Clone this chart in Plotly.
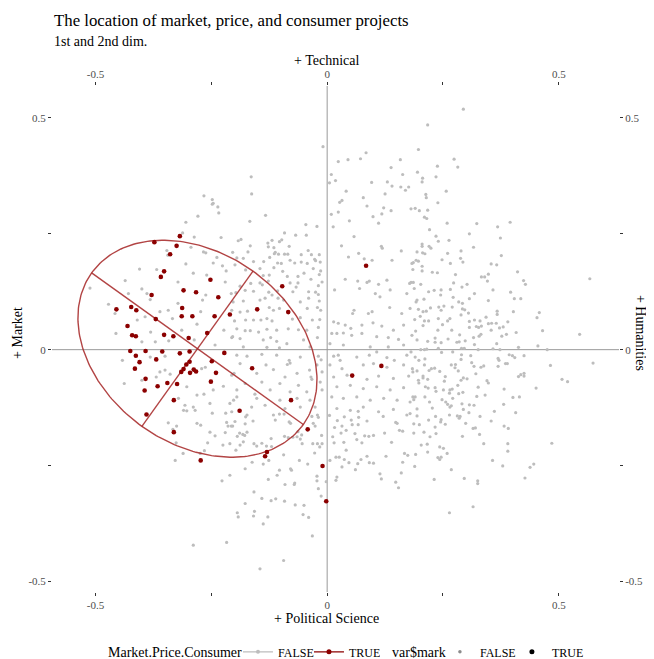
import numpy as np
import plotly.graph_objects as go

TITLE = "The location of market, price, and consumer projects"
SUBTITLE = "1st and 2nd dim."
X_TOP_TITLE = "+ Technical"
X_BOTTOM_TITLE = "+ Political Science"
Y_LEFT_TITLE = "+ Market"
Y_RIGHT_TITLE = "+ Humanities"
LEGEND1_TITLE = "Market.Price.Consumer"
LEGEND2_TITLE = "var$mark"
TICK_VALUES = [-0.5, -0.25, 0, 0.25, 0.5]
TICK_LABELS = ["-0.5", "", "0", "", "0.5"]
X_RANGE = [-0.594, 0.630]
Y_RANGE = [-0.523, 0.569]

# Market.Price.Consumer == TRUE projects
RED_POINTS = [
    (-0.339, 0.206), (-0.352, 0.169), (-0.359, 0.157), (-0.252, 0.151), (-0.379, 0.118),
    (-0.310, 0.128), (-0.283, 0.124), (-0.235, 0.113), (-0.455, 0.087), (-0.423, 0.092),
    (-0.412, 0.085), (-0.313, 0.090), (-0.314, 0.072), (-0.291, 0.072), (-0.243, 0.072),
    (-0.210, 0.076), (-0.370, 0.066), (-0.431, 0.051), (-0.421, 0.031), (-0.413, 0.029),
    (-0.352, 0.032), (-0.332, 0.029), (-0.299, 0.025), (-0.259, 0.036), (-0.425, -0.003),
    (-0.392, -0.003), (-0.356, -0.004), (-0.318, -0.008), (-0.297, -0.004), (-0.222, -0.007),
    (-0.413, -0.013), (-0.369, -0.021), (-0.405, -0.027), (-0.297, -0.026), (-0.304, -0.032),
    (-0.249, -0.025), (-0.415, -0.041), (-0.310, -0.042), (-0.315, -0.048), (-0.288, -0.043),
    (-0.283, -0.047), (-0.296, -0.050), (-0.240, -0.050), (-0.392, -0.063), (-0.345, -0.072),
    (-0.324, -0.074), (-0.251, -0.069), (-0.366, -0.079), (-0.394, -0.088), (-0.331, -0.109),
    (-0.390, -0.140), (-0.189, -0.132), (-0.373, 0.232), (-0.318, 0.245), (-0.325, 0.224),
    (0.084, 0.181), (-0.097, 0.137), (-0.151, 0.087), (-0.084, 0.081), (-0.162, -0.040),
    (0.117, -0.035), (0.054, -0.056), (-0.078, -0.109), (-0.331, -0.178), (-0.273, -0.239),
    (-0.042, -0.172), (-0.130, -0.221), (-0.134, -0.230), (-0.010, -0.251), (-0.002, -0.327),
]

# Market.Price.Consumer == FALSE projects (upper region)
GRAY_TOP = [
    (-0.266, 0.332), (-0.248, 0.324), (-0.246, 0.316), (-0.248, 0.314), (-0.236, 0.308),
    (-0.234, 0.295), (-0.279, 0.288), (-0.305, 0.275), (-0.312, 0.252), (-0.287, 0.243),
    (-0.229, 0.242), (-0.192, 0.235), (-0.294, 0.221), (-0.346, 0.214), (-0.267, 0.211),
    (-0.262, 0.209), (-0.204, 0.210), (-0.238, 0.199), (-0.344, 0.204),
    (-0.009, 0.438), (-0.164, 0.373), (-0.163, 0.336), (-0.133, 0.290), (-0.167, 0.277),
    (0.084, 0.425), (0.024, 0.406), (0.045, 0.410), (0.072, 0.412), (0.158, 0.410),
    (0.197, 0.432), (0.009, 0.378), (0.005, 0.360), (0.018, 0.365), (0.138, 0.393),
    (0.163, 0.378), (0.195, 0.383), (0.096, 0.361), (0.130, 0.362), (0.140, 0.353),
    (0.159, 0.351), (0.176, 0.351), (0.169, 0.344), (0.041, 0.342), (0.125, 0.336),
    (0.078, 0.328), (0.032, 0.322), (0.027, 0.318), (0.086, 0.310), (0.122, 0.306),
    (0.138, 0.300), (0.181, 0.304), (0.190, 0.305), (0.199, 0.300), (0.024, 0.297),
    (0.009, 0.292), (0.099, 0.287), (0.118, 0.293), (0.048, 0.278), (0.111, 0.273),
    (0.013, 0.265), (0.058, 0.244), (0.117, 0.223), (0.119, 0.219), (0.031, 0.224),
    (0.160, 0.213), (0.194, 0.211), (0.046, 0.200), (0.080, 0.196), (-0.046, 0.270),
    (-0.022, 0.266), (-0.045, 0.247), (-0.068, 0.247), (-0.092, 0.252), (-0.098, 0.237),
    (-0.103, 0.233), (-0.119, 0.236), (-0.128, 0.230), (-0.082, 0.223), (-0.127, 0.222),
    (-0.115, 0.220), (-0.166, 0.224), (-0.186, 0.238), (-0.171, 0.211), (-0.112, 0.210),
    (-0.105, 0.206), (-0.092, 0.206), (-0.041, 0.214), (-0.056, 0.205), (-0.124, 0.199),
    (-0.027, 0.195),
    (0.294, 0.519), (0.217, 0.485), (0.274, 0.411), (0.238, 0.396), (0.282, 0.394),
    (0.206, 0.370), (0.205, 0.362), (0.235, 0.373), (0.257, 0.342), (0.213, 0.335),
    (0.214, 0.328), (0.239, 0.317), (0.217, 0.301), (0.210, 0.286), (0.215, 0.283),
    (0.259, 0.273), (0.323, 0.272), (0.368, 0.265), (0.395, 0.275), (0.221, 0.259),
    (0.307, 0.250), (0.235, 0.245), (0.374, 0.241), (0.240, 0.234), (0.263, 0.236),
    (0.205, 0.228), (0.205, 0.223), (0.220, 0.223), (0.224, 0.219), (0.316, 0.221),
    (0.206, 0.209), (0.211, 0.207), (0.260, 0.208), (0.289, 0.213), (0.376, 0.203),
    (0.248, 0.194), (0.288, 0.197),
]

# right-hand region
GRAY_RIGHT = [
    (0.186, 0.188), (0.197, 0.191), (0.205, 0.180), (0.185, 0.173), (0.266, 0.186),
    (0.293, 0.189), (0.354, 0.185), (0.366, 0.183), (0.411, 0.168), (0.205, 0.170),
    (0.227, 0.167), (0.238, 0.166), (0.277, 0.162), (0.333, 0.157), (0.340, 0.157),
    (0.348, 0.163), (0.346, 0.148), (0.424, 0.149), (0.428, 0.141), (0.567, 0.153),
    (0.181, 0.145), (0.202, 0.141), (0.273, 0.144), (0.302, 0.141), (0.188, 0.132),
    (0.219, 0.125), (0.231, 0.128), (0.246, 0.129), (0.266, 0.130), (0.291, 0.135),
    (0.318, 0.121), (0.358, 0.129), (0.396, 0.124), (0.209, 0.109), (0.245, 0.118),
    (0.272, 0.113), (0.284, 0.103), (0.292, 0.100), (0.307, 0.110), (0.348, 0.106),
    (0.404, 0.110), (0.418, 0.110), (0.192, 0.103), (0.197, 0.087), (0.207, 0.082),
    (0.214, 0.083), (0.223, 0.090), (0.241, 0.092), (0.252, 0.094), (0.270, 0.092),
    (0.246, 0.085), (0.292, 0.088), (0.297, 0.086), (0.305, 0.079), (0.289, 0.075),
    (0.189, 0.065), (0.201, 0.072), (0.210, 0.062), (0.219, 0.062), (0.240, 0.067),
    (0.265, 0.067), (0.260, 0.062), (0.307, 0.061), (0.318, 0.064), (0.330, 0.062),
    (0.343, 0.070), (0.355, 0.057), (0.365, 0.057), (0.367, 0.083), (0.367, 0.076),
    (0.390, 0.060), (0.402, 0.082), (0.453, 0.069), (0.458, 0.080), (0.191, 0.040),
    (0.207, 0.052), (0.249, 0.054), (0.239, 0.042), (0.269, 0.042), (0.286, 0.032),
    (0.307, 0.048), (0.322, 0.050), (0.327, 0.048), (0.333, 0.051), (0.348, 0.056),
    (0.354, 0.042), (0.372, 0.047), (0.380, 0.049), (0.387, 0.033), (0.408, 0.037),
    (0.465, 0.041), (0.545, 0.033), (0.217, 0.018), (0.233, 0.025), (0.233, 0.016),
    (0.246, 0.015), (0.261, 0.023), (0.280, 0.016), (0.285, 0.017), (0.298, 0.019),
    (0.318, 0.011), (0.316, 0.026), (0.328, 0.029), (0.332, 0.033), (0.366, 0.013),
    (0.377, 0.029), (0.455, 0.008), (0.413, 0.005), (0.240, 0.003), (0.290, 0.003),
    (0.296, 0.003), (0.326, 0.000), (0.358, 0.002), (0.373, 0.000), (0.475, 0.000),
    (0.181, -0.005), (0.202, 0.000), (0.210, 0.000), (0.215, 0.001), (0.198, -0.023),
    (0.211, -0.020), (0.247, -0.006), (0.271, -0.005), (0.290, -0.011), (0.289, -0.021),
    (0.312, -0.028), (0.310, -0.013), (0.369, -0.019), (0.371, -0.023), (0.393, -0.011),
    (0.400, -0.013), (0.405, -0.017), (0.425, -0.013), (0.385, -0.030), (0.389, -0.030),
    (0.369, -0.036), (0.482, -0.034), (0.574, -0.029), (0.210, -0.033), (0.220, -0.045),
    (0.225, -0.041), (0.232, -0.040), (0.243, -0.047), (0.268, -0.033), (0.277, -0.032),
    (0.276, -0.039), (0.283, -0.046), (0.317, -0.036), (0.332, -0.038), (0.338, -0.035),
    (0.185, -0.048), (0.194, -0.046), (0.207, -0.057), (0.207, -0.061), (0.217, -0.064),
    (0.198, -0.072), (0.255, -0.058), (0.253, -0.068), (0.289, -0.066), (0.294, -0.061),
    (0.302, -0.063), (0.321, -0.052), (0.345, -0.067), (0.348, -0.072), (0.413, -0.058),
    (0.418, -0.054), (0.425, -0.051), (0.425, -0.057), (0.507, -0.064), (0.519, -0.069),
    (0.451, -0.083), (0.212, -0.080), (0.218, -0.083), (0.233, -0.082), (0.235, -0.090),
    (0.251, -0.087), (0.265, -0.087), (0.270, -0.085), (0.282, -0.077), (0.264, -0.094),
    (0.284, -0.095), (0.293, -0.092), (0.326, -0.081), (0.341, -0.098), (0.382, -0.085),
    (0.401, -0.103), (0.415, -0.102), (0.185, -0.102), (0.187, -0.108), (0.211, -0.102),
    (0.248, -0.108), (0.256, -0.113), (0.271, -0.105), (0.323, -0.101), (0.194, -0.128),
    (0.221, -0.113), (0.227, -0.126), (0.260, -0.118), (0.265, -0.124), (0.268, -0.121),
    (0.291, -0.117), (0.294, -0.129), (0.307, -0.119), (0.317, -0.120), (0.361, -0.133),
    (0.381, -0.118), (0.179, -0.138), (0.194, -0.143), (0.234, -0.144), (0.264, -0.141),
    (0.287, -0.144), (0.306, -0.136), (0.330, -0.144), (0.407, -0.136),
    (0.281, -0.143), (0.285, -0.148), (0.219, -0.152), (0.246, -0.151), (0.245, -0.156),
    (0.255, -0.161), (0.187, -0.160), (0.199, -0.162), (0.299, -0.159), (0.354, -0.154),
    (0.233, -0.167), (0.315, -0.170), (0.320, -0.169), (0.382, -0.165), (0.391, -0.170),
    (0.187, -0.180), (0.209, -0.178), (0.235, -0.181), (0.222, -0.188), (0.292, -0.187),
    (0.329, -0.183), (0.203, -0.206), (0.216, -0.204), (0.243, -0.210), (0.251, -0.213),
    (0.338, -0.203), (0.390, -0.203), (0.485, -0.202), (0.191, -0.226), (0.217, -0.221),
    (0.239, -0.233), (0.243, -0.237), (0.246, -0.232), (0.259, -0.224), (0.390, -0.219),
    (0.357, -0.239), (0.189, -0.252), (0.268, -0.259), (0.379, -0.251), (0.438, -0.254),
    (0.446, -0.247), (0.231, -0.280), (0.296, -0.278), (0.325, -0.283), (0.325, -0.289),
    (0.427, -0.277), (0.315, -0.339), (0.264, -0.352),
]

# lower region
GRAY_BOTTOM = [
    (-0.199, -0.155), (-0.204, -0.165), (-0.176, -0.145), (-0.160, -0.154), (-0.177, -0.160),
    (-0.173, -0.178), (-0.189, -0.180), (-0.182, -0.183), (-0.178, -0.185), (-0.194, -0.187),
    (-0.188, -0.206), (-0.181, -0.199), (-0.158, -0.203), (-0.152, -0.208), (-0.141, -0.202),
    (-0.121, -0.192), (-0.131, -0.208), (-0.120, -0.209), (-0.112, -0.152), (-0.103, -0.139),
    (-0.093, -0.139), (-0.082, -0.156), (-0.079, -0.159), (-0.092, -0.187), (-0.084, -0.190),
    (-0.074, -0.189), (-0.065, -0.188), (-0.058, -0.193), (-0.063, -0.177), (-0.055, -0.184),
    (-0.054, -0.203), (-0.033, -0.144), (-0.019, -0.146), (-0.030, -0.159), (-0.026, -0.165),
    (-0.012, -0.185), (-0.021, -0.203), (-0.011, -0.203), (-0.031, -0.203), (-0.016, -0.210),
    (-0.027, -0.223), (-0.042, -0.247), (-0.060, -0.239), (-0.094, -0.227), (-0.079, -0.257),
    (-0.077, -0.260), (-0.108, -0.271), (-0.127, -0.280), (-0.091, -0.291), (-0.070, -0.288),
    (-0.071, -0.291), (-0.022, -0.273), (-0.022, -0.283), (-0.019, -0.300), (-0.013, -0.316),
    (-0.002, -0.285), (-0.158, -0.307), (-0.177, -0.332), (-0.141, -0.321), (-0.121, -0.326),
    (-0.111, -0.322), (-0.092, -0.327), (-0.069, -0.335), (-0.050, -0.336), (-0.157, -0.349),
    (-0.159, -0.359), (-0.194, -0.352), (-0.192, -0.361), (-0.128, -0.361), (-0.138, -0.376),
    (-0.052, -0.356), (-0.040, -0.362), (-0.032, -0.402), (-0.094, -0.455), (-0.145, -0.473),
    (-0.210, -0.271), (-0.177, -0.257), (-0.138, -0.247), (-0.126, -0.239), (-0.162, -0.243),
    (-0.103, -0.260),
    (0.005, -0.142), (0.016, -0.168), (0.022, -0.153), (0.037, -0.145), (0.052, -0.152),
    (0.068, -0.146), (0.067, -0.133), (0.032, -0.165), (0.041, -0.174), (0.030, -0.180),
    (0.054, -0.162), (0.067, -0.162), (0.060, -0.181), (0.012, -0.188), (0.015, -0.201),
    (0.036, -0.200), (0.041, -0.217), (0.064, -0.194), (0.075, -0.201), (0.081, -0.186),
    (0.090, -0.187), (0.086, -0.154), (0.100, -0.185), (0.006, -0.239), (0.019, -0.232),
    (0.026, -0.232), (0.037, -0.237), (0.047, -0.244), (0.061, -0.259), (0.066, -0.246),
    (0.073, -0.237), (0.086, -0.230), (0.091, -0.244), (0.100, -0.245), (0.021, -0.275),
    (0.032, -0.253), (0.019, -0.282), (0.121, -0.144), (0.148, -0.157), (0.151, -0.159),
    (0.156, -0.174), (0.163, -0.176), (0.124, -0.180), (0.139, -0.200), (0.127, -0.230),
    (0.167, -0.224), (0.174, -0.228), (0.163, -0.243), (0.114, -0.268), (0.117, -0.279),
    (0.148, -0.286), (0.154, -0.298), (0.160, -0.266),
    (-0.343, -0.158), (-0.333, -0.172), (-0.325, -0.165), (-0.310, -0.131), (-0.303, -0.132),
    (-0.281, -0.159), (-0.273, -0.163), (-0.248, -0.137), (-0.219, -0.137), (-0.206, -0.134),
    (-0.217, -0.157), (-0.214, -0.165), (-0.207, -0.165), (-0.253, -0.178), (-0.242, -0.186),
    (-0.220, -0.179), (-0.258, -0.201), (-0.225, -0.206), (-0.210, -0.203), (-0.197, -0.217),
    (-0.265, -0.218), (-0.274, -0.224), (-0.326, -0.201), (-0.311, -0.224), (-0.328, -0.239),
    (-0.227, -0.283), (-0.289, -0.422), (-0.217, -0.416),
]

# dense central band and ellipse interior
GRAY_CENTER = [
    (-0.114, 0.207), (-0.085, 0.206), (-0.034, 0.205), (-0.017, 0.205), (-0.195, 0.198),
    (-0.181, 0.197), (-0.159, 0.190), (-0.137, 0.190), (-0.107, 0.187), (-0.099, 0.186),
    (-0.080, 0.193), (-0.070, 0.187), (-0.056, 0.189), (-0.043, 0.186), (-0.025, 0.192),
    (-0.015, 0.189), (-0.176, 0.172), (-0.145, 0.175), (-0.115, 0.177), (-0.096, 0.169),
    (-0.050, 0.165), (-0.030, 0.175), (-0.014, 0.170), (-0.138, 0.160), (-0.125, 0.161),
    (-0.086, 0.158), (-0.063, 0.158), (-0.035, 0.152), (-0.017, 0.162), (-0.145, 0.144),
    (-0.140, 0.140), (-0.127, 0.148), (-0.080, 0.144), (-0.067, 0.135), (-0.063, 0.144),
    (-0.019, 0.138), (-0.011, 0.146), (-0.188, 0.137), (-0.165, 0.143), (-0.197, 0.123),
    (-0.177, 0.128), (-0.159, 0.126), (-0.126, 0.124), (-0.119, 0.118), (-0.107, 0.127),
    (-0.074, 0.125), (-0.040, 0.125), (-0.025, 0.124), (-0.019, 0.119), (-0.203, 0.103),
    (-0.181, 0.105), (-0.145, 0.107), (-0.134, 0.111), (-0.106, 0.111), (-0.094, 0.107),
    (-0.058, 0.103), (-0.040, 0.111), (-0.017, 0.105), (-0.206, 0.085), (-0.188, 0.081),
    (-0.172, 0.083), (-0.125, 0.091), (-0.116, 0.085), (-0.103, 0.089), (-0.043, 0.089),
    (-0.021, 0.091), (-0.014, 0.085), (-0.200, 0.062), (-0.176, 0.064), (-0.159, 0.064),
    (-0.143, 0.064), (-0.130, 0.067), (-0.119, 0.062), (-0.075, 0.066), (-0.058, 0.069),
    (-0.032, 0.064), (-0.016, 0.065), (-0.195, 0.045), (-0.177, 0.041), (-0.166, 0.041),
    (-0.148, 0.038), (-0.130, 0.044), (-0.109, 0.042), (-0.084, 0.045), (-0.062, 0.043),
    (-0.044, 0.042), (-0.019, 0.048), (-0.206, 0.026), (-0.188, 0.024), (-0.138, 0.021),
    (-0.122, 0.026), (-0.109, 0.018), (-0.087, 0.013), (-0.051, 0.021), (-0.021, 0.026),
    (-0.181, 0.006), (-0.130, 0.005), (-0.103, 0.004), (-0.037, 0.006), (-0.195, -0.012),
    (-0.173, -0.014), (-0.141, -0.010), (-0.109, -0.012), (-0.082, -0.023), (-0.058, -0.016),
    (-0.019, -0.014), (-0.013, -0.022), (-0.188, -0.030), (-0.132, -0.033), (-0.086, -0.032),
    (-0.080, -0.029), (-0.038, -0.044), (-0.022, -0.033), (-0.201, -0.051), (-0.152, -0.051),
    (-0.116, -0.043), (-0.091, -0.059), (-0.065, -0.051), (-0.035, -0.059), (-0.033, -0.064),
    (-0.011, -0.048), (-0.177, -0.073), (-0.141, -0.070), (-0.102, -0.073), (-0.062, -0.077),
    (-0.015, -0.070), (-0.195, -0.087), (-0.156, -0.096), (-0.123, -0.087), (-0.080, -0.091),
    (-0.044, -0.091), (-0.011, -0.087), (-0.202, -0.109), (-0.152, -0.105), (-0.102, -0.109),
    (-0.065, -0.105), (-0.037, -0.109), (-0.163, -0.124), (-0.134, -0.120), (-0.091, -0.127),
    (-0.058, -0.124), (-0.026, -0.124), (-0.173, -0.141), (-0.116, -0.141), (-0.021, -0.141),
    (0.068, 0.208), (0.097, 0.193), (0.140, 0.193), (0.183, 0.186), (0.192, 0.193),
    (0.039, 0.152), (0.066, 0.148), (0.086, 0.145), (0.091, 0.148), (0.111, 0.141),
    (0.129, 0.150), (0.178, 0.143), (0.186, 0.145), (0.016, 0.129), (0.070, 0.132),
    (0.104, 0.121), (0.114, 0.114), (0.136, 0.129), (0.172, 0.121), (0.194, 0.107),
    (0.058, 0.085), (0.055, 0.078), (0.089, 0.078), (0.097, 0.082), (0.135, 0.091),
    (0.161, 0.078), (0.179, 0.089), (0.014, 0.060), (0.024, 0.057), (0.039, 0.053),
    (0.051, 0.046), (0.075, 0.053), (0.099, 0.058), (0.118, 0.051), (0.143, 0.042),
    (0.165, 0.053), (0.010, 0.035), (0.021, 0.035), (0.035, 0.036), (0.053, 0.031),
    (0.075, 0.035), (0.107, 0.028), (0.132, 0.026), (0.154, 0.022), (0.183, 0.031),
    (0.194, 0.021), (0.006, 0.013), (0.035, 0.010), (0.093, 0.006), (0.132, 0.006),
    (0.165, 0.010), (0.014, -0.014), (0.024, -0.012), (0.028, -0.023), (0.064, -0.016),
    (0.091, -0.012), (0.107, -0.005), (0.129, -0.017), (0.145, -0.023), (0.172, -0.012),
    (0.190, -0.016), (0.006, -0.033), (0.032, -0.041), (0.078, -0.033), (0.100, -0.030),
    (0.129, -0.038), (0.165, -0.033), (0.184, -0.041), (0.014, -0.059), (0.043, -0.055),
    (0.086, -0.064), (0.111, -0.057), (0.143, -0.062), (0.176, -0.057), (0.197, -0.066),
    (0.021, -0.080), (0.050, -0.077), (0.078, -0.084), (0.107, -0.080), (0.136, -0.087),
    (0.165, -0.082), (0.190, -0.102), (0.010, -0.102), (0.035, -0.105), (0.064, -0.102),
    (0.093, -0.109), (0.122, -0.105), (0.151, -0.109), (0.179, -0.113), (0.021, -0.127),
    (0.050, -0.131), (0.078, -0.124), (0.111, -0.134), (0.143, -0.129), (0.172, -0.141),
    (-0.512, 0.133), (-0.472, 0.098), (-0.458, 0.078), (-0.456, 0.035), (-0.442, -0.023),
    (-0.438, -0.073), (-0.405, 0.174), (-0.436, 0.149), (-0.400, 0.131), (-0.429, 0.121),
    (-0.389, 0.121), (-0.382, 0.108), (-0.368, 0.173), (-0.322, 0.146), (-0.305, 0.185),
    (-0.289, 0.165), (-0.246, 0.187), (-0.226, 0.181), (-0.199, 0.183), (-0.218, 0.170),
    (-0.260, 0.161), (-0.220, 0.146), (-0.262, 0.118), (-0.269, 0.107), (-0.207, 0.121),
    (-0.322, 0.100), (-0.343, 0.085), (-0.361, 0.082), (-0.393, 0.071), (-0.410, 0.064),
    (-0.334, 0.067), (-0.273, 0.082), (-0.281, 0.055), (-0.314, 0.042), (-0.381, 0.038),
    (-0.400, 0.017), (-0.371, 0.017), (-0.342, 0.019), (-0.287, 0.021), (-0.223, 0.042),
    (-0.204, 0.028), (-0.242, 0.010), (-0.382, -0.016), (-0.350, -0.014), (-0.271, -0.041),
    (-0.263, -0.038), (-0.361, -0.048), (-0.350, -0.044), (-0.339, -0.053), (-0.400, -0.066),
    (-0.369, -0.059), (-0.206, -0.055), (-0.303, -0.080), (-0.281, -0.098), (-0.266, -0.096),
    (-0.246, -0.087), (-0.224, -0.079), (-0.321, -0.105), (-0.307, -0.120), (-0.289, -0.124),
    (-0.253, -0.116), (-0.210, -0.116), (-0.195, -0.102), (-0.285, -0.131),
]

# Ellipse summarising the TRUE group (centre, semi-axes, rotation in degrees)
ELLIPSE_CENTER = (-0.280, 0.002)
ELLIPSE_SEMI_AXES = (0.281, 0.206)
ELLIPSE_ANGLE_DEG = -35.6

GRAY_COLOR = "#bdbdbd"
RED_COLOR = "#8b0000"
ELLIPSE_COLOR = "rgba(165,35,35,0.85)"
FONT = "Liberation Serif, Times New Roman, serif"

gray_all = GRAY_TOP + GRAY_RIGHT + GRAY_BOTTOM + GRAY_CENTER
gray_x = [p[0] for p in gray_all]
gray_y = [p[1] for p in gray_all]
red_x = [p[0] for p in RED_POINTS]
red_y = [p[1] for p in RED_POINTS]

cx, cy = ELLIPSE_CENTER
a, b = ELLIPSE_SEMI_AXES
th = np.deg2rad(ELLIPSE_ANGLE_DEG)
t = np.linspace(0, 2 * np.pi, 241)
ex = cx + a * np.cos(th) * np.cos(t) - b * np.sin(th) * np.sin(t)
ey = cy + a * np.sin(th) * np.cos(t) + b * np.cos(th) * np.sin(t)
maj_x = [cx - a * np.cos(th), cx + a * np.cos(th)]
maj_y = [cy - a * np.sin(th), cy + a * np.sin(th)]
min_x = [cx + b * np.sin(th), cx - b * np.sin(th)]
min_y = [cy - b * np.cos(th), cy + b * np.cos(th)]

fig = go.Figure()
fig.add_trace(go.Scatter(x=gray_x, y=gray_y, mode="markers",
                         marker=dict(color=GRAY_COLOR, size=3.2), showlegend=False, hoverinfo="skip"))
for lx, ly in [(list(ex), list(ey)), (maj_x, maj_y), (min_x, min_y)]:
    fig.add_trace(go.Scatter(x=lx, y=ly, mode="lines",
                             line=dict(color=ELLIPSE_COLOR, width=1.4), showlegend=False, hoverinfo="skip"))
fig.add_trace(go.Scatter(x=red_x, y=red_y, mode="markers",
                         marker=dict(color=RED_COLOR, size=4.6), showlegend=False, hoverinfo="skip"))
fig.add_trace(go.Scatter(x=[], y=[], xaxis="x2", yaxis="y2", showlegend=False))

# legend entries
fig.add_trace(go.Scatter(x=[None], y=[None], mode="lines+markers", name="FALSE",
                         line=dict(color=GRAY_COLOR, width=1.2), marker=dict(color=GRAY_COLOR, size=4),
                         legend="legend"))
fig.add_trace(go.Scatter(x=[None], y=[None], mode="lines+markers", name="TRUE",
                         line=dict(color=RED_COLOR, width=1.2), marker=dict(color=RED_COLOR, size=5),
                         legend="legend"))
fig.add_trace(go.Scatter(x=[None], y=[None], mode="markers", name="FALSE",
                         marker=dict(color="#8c8c8c", size=3.5), legend="legend2"))
fig.add_trace(go.Scatter(x=[None], y=[None], mode="markers", name="TRUE",
                         marker=dict(color="black", size=5), legend="legend2"))

axis_common = dict(
    tickvals=TICK_VALUES, ticktext=TICK_LABELS, ticks="outside", ticklen=3, tickwidth=1,
    tickcolor="#333333", showgrid=False, showline=False, zeroline=False, automargin=False,
    tickfont=dict(family=FONT, size=11, color="#4d4d4d"), autorange=False,
)

# the page body adds an 8px offset, so the figure is 8px smaller than the window
fig.update_layout(
    width=646, height=651,
    margin=dict(l=44, r=35, t=78, b=67, autoexpand=False),
    paper_bgcolor="white", plot_bgcolor="white",
    font=dict(family=FONT, color="black"),
    xaxis=dict(range=X_RANGE, side="bottom", **axis_common),
    xaxis2=dict(range=X_RANGE, side="top", overlaying="x", anchor="y", **axis_common),
    yaxis=dict(range=Y_RANGE, side="left", **axis_common),
    yaxis2=dict(range=Y_RANGE, side="right", overlaying="y", anchor="x", **axis_common),
    shapes=[
        dict(type="line", xref="x", yref="paper", x0=0, x1=0, y0=0, y1=1,
             line=dict(color="#9a9a9a", width=1), layer="below"),
        dict(type="line", xref="paper", yref="y", x0=0, x1=1, y0=0, y1=0,
             line=dict(color="#9a9a9a", width=1), layer="below"),
    ],
    legend=dict(orientation="h", xref="container", yref="container",
                x=0.356, xanchor="left", y=0.011, yanchor="middle",
                font=dict(size=12, family=FONT), bgcolor="rgba(0,0,0,0)", entrywidth=26),
    legend2=dict(orientation="h", xref="container", yref="container",
                 x=0.6686, xanchor="left", y=0.011, yanchor="middle",
                 font=dict(size=12, family=FONT), bgcolor="rgba(0,0,0,0)", entrywidth=27),
    annotations=[
        dict(text=TITLE, xref="paper", yref="paper", x=0.0, y=1.130, xanchor="left",
             yanchor="middle", showarrow=False, font=dict(size=16.8, family=FONT)),
        dict(text=SUBTITLE, xref="paper", yref="paper", x=0.0, y=1.087, xanchor="left",
             yanchor="middle", showarrow=False, font=dict(size=14, family=FONT)),
        dict(text=X_TOP_TITLE, xref="paper", yref="paper", x=0.485, y=1.051, xanchor="center",
             yanchor="middle", showarrow=False, font=dict(size=14, family=FONT)),
        dict(text=X_BOTTOM_TITLE, xref="paper", yref="paper", x=0.485, y=-0.052, xanchor="center",
             yanchor="middle", showarrow=False, font=dict(size=14, family=FONT)),
        dict(text=Y_LEFT_TITLE, xref="paper", yref="paper", x=-0.060, y=0.512, xanchor="center",
             yanchor="middle", showarrow=False, textangle=-90, font=dict(size=14, family=FONT)),
        dict(text=Y_RIGHT_TITLE, xref="paper", yref="paper", x=1.037, y=0.512, xanchor="center",
             yanchor="middle", showarrow=False, textangle=90, font=dict(size=14, family=FONT)),
        dict(text=LEGEND1_TITLE, xref="paper", yref="paper", x=0.095, y=-0.1186, xanchor="left",
             yanchor="middle", showarrow=False, font=dict(size=14, family=FONT)),
        dict(text=LEGEND2_TITLE, xref="paper", yref="paper", x=0.596, y=-0.1186, xanchor="left",
             yanchor="middle", showarrow=False, font=dict(size=14, family=FONT)),
    ],
)

fig.write_html("out.html")
